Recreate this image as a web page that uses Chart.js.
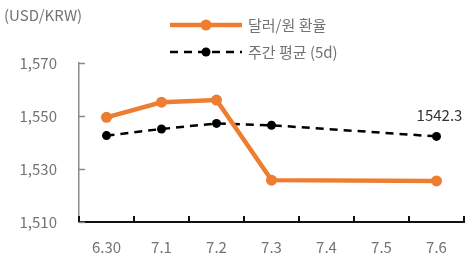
<!DOCTYPE html>
<html><head><meta charset="utf-8">
<script src="https://cdn.jsdelivr.net/npm/chart.js@4.4.1/dist/chart.umd.min.js"></script>
<style>html,body{margin:0;padding:0;background:#fff}#wrap{width:473px;height:258px;position:relative}</style>
</head><body><div id="wrap"><canvas id="c" width="473" height="258"></canvas></div>
<script>
const categories = ['6.30','7.1','7.2','7.3','7.4','7.5','7.6'];
const fxRate = [1549.5, 1555.2, 1556.0, 1525.8, null, null, 1525.5];
const weeklyAvg = [1542.6, 1545.1, 1547.2, 1546.5, null, null, 1542.3];
const seriesNames = ['달러/원 환율', '주간 평균 (5d)'];
const yTicks = [1510, 1530, 1550, 1570];
const unitLabel = '(USD/KRW)';
const endLabel = '1542.3';

const FONT = "'Noto Sans CJK KR','Noto Sans',sans-serif";
const ORANGE = '#ED7D31';
const TXT = '#737373';

const extras = {
  id: 'extras',
  afterDraw(chart) {
    const ctx = chart.ctx;
    const ys = chart.scales.y;
    const ca = chart.chartArea;
    ctx.save();
    ctx.strokeStyle = '#111'; ctx.lineWidth = 2;
    const n = categories.length;
    const step = (ca.right - ca.left) / n;
    for (let i = 0; i <= n; i++) {
      const x = Math.round(ca.left + i * step);
      ctx.beginPath(); ctx.moveTo(x, ca.bottom); ctx.lineTo(x, ca.bottom - 6); ctx.stroke();
    }
    ctx.strokeStyle = '#8a8a8a'; ctx.lineWidth = 1.5;
    yTicks.forEach(v => {
      const y = Math.round(ys.getPixelForValue(v)) + 0.5;
      ctx.beginPath(); ctx.moveTo(ca.left, y); ctx.lineTo(ca.left + 6, y); ctx.stroke();
    });
    ctx.fillStyle = TXT; ctx.font = '15px ' + FONT;
    ctx.textAlign = 'left'; ctx.textBaseline = 'middle';
    ctx.fillText(unitLabel, 4, 15);
    const meta = chart.getDatasetMeta(1);
    const last = meta.data[n - 1];
    ctx.fillStyle = '#333'; ctx.textAlign = 'center'; ctx.font = '15px ' + FONT;
    ctx.fillText(endLabel, last.x + 3, last.y - 21);
    const rows = [
      {y: 25, color: ORANGE, w: 4.5, dash: [], r: 5.5},
      {y: 52, color: '#000', w: 2.5, dash: [8, 6], r: 4.5}
    ];
    rows.forEach((row, i) => {
      ctx.strokeStyle = row.color; ctx.lineWidth = row.w; ctx.setLineDash(row.dash);
      ctx.beginPath(); ctx.moveTo(170, row.y); ctx.lineTo(242, row.y); ctx.stroke();
      ctx.setLineDash([]);
      ctx.fillStyle = row.color;
      ctx.beginPath(); ctx.arc(206, row.y, row.r, 0, Math.PI * 2); ctx.fill();
      ctx.fillStyle = TXT; ctx.textAlign = 'left'; ctx.font = '15px ' + FONT;
      ctx.fillText(seriesNames[i], 248, row.y);
    });
    ctx.restore();
  }
};

new Chart(document.getElementById('c'), {
  type: 'line',
  data: {
    labels: categories,
    datasets: [
      {label: seriesNames[0], data: fxRate, borderColor: ORANGE, backgroundColor: ORANGE,
       borderWidth: 4.5, pointRadius: 5.5, pointBackgroundColor: ORANGE, pointBorderWidth: 0,
       spanGaps: true, tension: 0, order: 1},
      {label: seriesNames[1], data: weeklyAvg, borderColor: '#000', backgroundColor: '#000',
       borderWidth: 2.5, borderDash: [8, 6], pointRadius: 4.5, pointBackgroundColor: '#000',
       pointBorderWidth: 0, spanGaps: true, tension: 0, order: 2}
    ]
  },
  options: {
    responsive: false, animation: false,
    layout: {padding: {left: 0, right: 9, top: 63, bottom: 0}},
    plugins: {legend: {display: false}, tooltip: {enabled: false}},
    scales: {
      x: {
        offset: true,
        grid: {display: false, offset: true},
        border: {color: '#111', width: 2},
        ticks: {color: TXT, font: {family: FONT, size: 15}, padding: 8, maxRotation: 0},
        afterFit(s) { s.height = 36; }
      },
      y: {
        min: 1510, max: 1570,
        afterBuildTicks(s) { s.ticks = yTicks.map(v => ({value: v})); },
        grid: {display: false},
        border: {color: '#8a8a8a', width: 1.5},
        ticks: {color: TXT, font: {family: FONT, size: 15}, padding: 14},
        afterFit(s) { s.width = 79; }
      }
    }
  },
  plugins: [extras]
});
</script></body></html>
